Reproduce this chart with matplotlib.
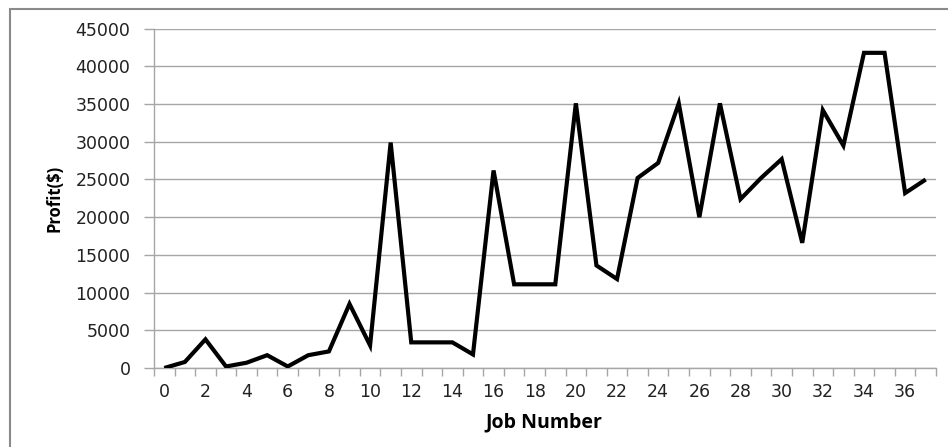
import matplotlib
matplotlib.use("Agg")
import matplotlib.pyplot as plt
from matplotlib.patches import Rectangle
import numpy as np

# Profit per job
job_numbers = list(range(38))
profit = [0, 800, 3800, 200, 700, 1700, 200, 1700, 2200, 8500,
          3000, 29900, 3400, 3400, 3400, 1800, 26200, 11100, 11100, 11100,
          35100, 13600, 11800, 25200, 27200, 35100, 20000, 35100, 22400, 25200,
          27700, 16600, 34200, 29500, 41800, 41800, 23200, 25000]
y_ticks = [0, 5000, 10000, 15000, 20000, 25000, 30000, 35000, 40000, 45000]
x_tick_labels = [str(v) for v in range(0, 37, 2)]

W, H = 948, 447
fig = plt.figure(figsize=(W / 100, H / 100), dpi=100)
fig.patch.set_facecolor("white")

# chart-area frame
fig.patches.append(Rectangle((10 / W, -0.2), 1.0, 1.2 - 8.7 / H,
                             transform=fig.transFigure, fill=False,
                             edgecolor="#8a8a8a", linewidth=1.5))

ax = fig.add_axes([154 / W, 1 - 368 / H, (936 - 154) / W, (368 - 28.7) / H])

ax.plot(job_numbers, profit, color="black", linewidth=3.0,
        solid_joinstyle="miter", solid_capstyle="butt", zorder=3)

ax.set_xlim(-0.5, len(job_numbers) - 0.5)
ax.set_ylim(0, 45000)

grid_col = "#a6a6a6"
ax.set_yticks(y_ticks)
ax.set_yticklabels([str(v) for v in y_ticks])
ax.yaxis.grid(True, color=grid_col, linewidth=1.0)
ax.set_axisbelow(True)

# category labels on even jobs, ticks at category boundaries
ax.set_xticks(range(0, 37, 2))
ax.set_xticklabels(x_tick_labels)
ax.set_xticks(np.arange(-0.5, len(job_numbers), 1.0), minor=True)
ax.tick_params(axis="x", which="major", length=0, pad=11, labelsize=12.5,
               labelcolor="#222222")
ax.tick_params(axis="x", which="minor", length=6, width=1, color=grid_col,
               direction="out")
ax.tick_params(axis="y", which="major", length=7, width=1, color=grid_col,
               direction="out", pad=10, labelsize=12.5, labelcolor="#222222")

for s in ["top", "right"]:
    ax.spines[s].set_visible(False)
ax.spines["left"].set_color(grid_col)
ax.spines["bottom"].set_color(grid_col)
ax.spines["left"].set_linewidth(1.0)
ax.spines["bottom"].set_linewidth(1.0)

fig.text(544 / W, 1 - 422 / H, "Job Number", ha="center", va="center",
         fontsize=14, fontweight="bold", family=["Open Sans", "DejaVu Sans"])
fig.text(55 / W, 1 - 198 / H, "Profit($)", rotation=90, ha="center",
         va="center", fontsize=12, fontweight="bold",
         family=["Open Sans", "DejaVu Sans"])

fig.savefig("out.png", dpi=100)
